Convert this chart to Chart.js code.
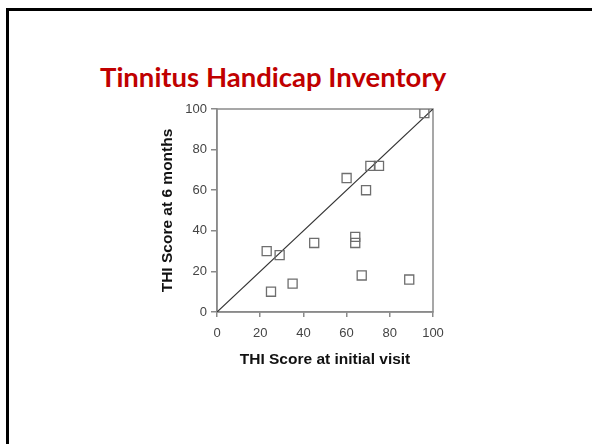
<!DOCTYPE html>
<html>
<head>
<meta charset="utf-8">
<script src="https://cdn.jsdelivr.net/npm/chart.js@4.4.0/dist/chart.umd.min.js"></script>
<style>
  html, body { margin: 0; padding: 0; background: #fff; }
  #slide { position: relative; width: 592px; height: 444px; overflow: hidden; }
  #frame { position: absolute; left: 6px; top: 8px; width: 620px; height: 480px; border: 3px solid #000; box-sizing: border-box; }
  #title { position: absolute; left: 100px; top: 60px; font-family: Lato, sans-serif; font-weight: 700; font-size: 27.5px; color: #c00000; white-space: nowrap; }
  #thi { position: absolute; left: 0; top: 0; }
</style>
</head>
<body>
<div id="slide">
  <div id="frame"></div>
  <div id="title">Tinnitus Handicap Inventory</div>
  <canvas id="thi" width="592" height="444"></canvas>
</div>
<script>
// THI scores per patient
const initialVisit = [96, 60, 71, 75, 69, 64, 64, 45, 23, 29, 25, 35, 67, 89];
const sixMonths    = [98, 66, 72, 72, 60, 37, 34, 34, 30, 28, 10, 14, 18, 16];
// line of no change (y = x)
const identityX = [0, 100];
const identityY = [0, 100];
const tickValues = [0, 20, 40, 60, 80, 100];

const axisColor = '#8a8a8a';

// draw the gray box round the plot area
const plotBox = {
    id: 'plotBox',
    beforeDatasetsDraw(chart) {
        const a = chart.chartArea;
        const c = chart.ctx;
        c.save();
        c.strokeStyle = axisColor;
        c.lineWidth = 1.5;
        c.strokeRect(a.left, a.top, a.right - a.left, a.bottom - a.top);
        c.restore();
    }
};

const ctx = document.getElementById('thi').getContext('2d');
const thiChart = new Chart(ctx, {
    type: 'scatter',
    data: {
        datasets: [{
            label: 'Patients',
            data: initialVisit.map((x, i) => ({ x: x, y: sixMonths[i] })),
            pointStyle: 'rect',
            pointRadius: 6.4,
            pointHoverRadius: 6.4,
            borderColor: '#6e6e6e',
            borderWidth: 1.3,
            backgroundColor: 'rgba(255,255,255,0)'
        }, {
            type: 'line',
            label: 'No change',
            data: identityX.map((x, i) => ({ x: x, y: identityY[i] })),
            borderColor: '#333',
            borderWidth: 1.2,
            pointRadius: 0,
            fill: false
        }]
    },
    options: {
        responsive: false,
        animation: false,
        layout: { padding: { left: 140, right: 159, top: 109, bottom: 75 } },
        plugins: {
            legend: { display: false },
            tooltip: { enabled: false }
        },
        scales: {
            x: {
                type: 'linear',
                min: 0,
                max: 100,
                afterBuildTicks: (s) => { s.ticks = tickValues.map(v => ({ value: v })); },
                afterFit: (s) => { s.height = 57; },
                grid: { drawOnChartArea: false, tickLength: 5, color: axisColor, lineWidth: 1.5 },
                border: { color: axisColor, width: 1.5 },
                ticks: { color: '#444', padding: 9, font: { family: 'Liberation Sans', size: 13 } },
                title: {
                    display: true,
                    text: 'THI Score at initial visit',
                    color: '#111',
                    padding: { top: 3, bottom: 0 },
                    font: { family: 'Liberation Sans', size: 15.5, weight: 'bold' }
                }
            },
            y: {
                type: 'linear',
                min: 0,
                max: 100,
                afterBuildTicks: (s) => { s.ticks = tickValues.map(v => ({ value: v })); },
                afterFit: (s) => { s.width = 77; },
                grid: { drawOnChartArea: false, tickLength: 6, color: axisColor, lineWidth: 1.5 },
                border: { color: axisColor, width: 1.5 },
                ticks: { color: '#444', padding: 4, font: { family: 'Liberation Sans', size: 13 } },
                title: {
                    display: true,
                    text: 'THI Score at 6 months',
                    color: '#111',
                    padding: { top: 18, bottom: 0 },
                    font: { family: 'Liberation Sans', size: 15.5, weight: 'bold' }
                }
            }
        }
    },
    plugins: [plotBox]
});
</script>
</body>
</html>
